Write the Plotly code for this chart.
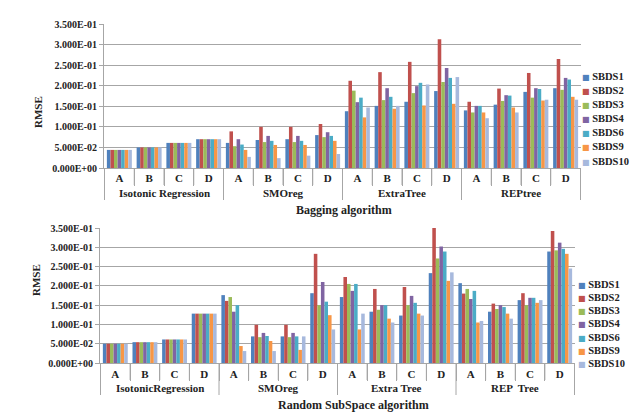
import plotly.graph_objects as go

series_names = ["SBDS1", "SBDS2", "SBDS3", "SBDS4", "SBDS6", "SBDS9", "SBDS10"]
series_colors = ["#4F81BD", "#C0504D", "#9BBB59", "#8064A2", "#4BACC6", "#F79646", "#A7B9DD"]
sub_labels = ["A", "B", "C", "D"]
bag_groups = ["Isotonic Regression", "SMOreg", "ExtraTree", "REPtree"]
rs_groups = ["IsotonicRegression", "SMOreg", "Extra Tree", "REP  Tree"]
ytick_vals = [0.0, 0.05, 0.10, 0.15, 0.20, 0.25, 0.30, 0.35]
ytick_text = ["0.000E+00", "5.000E-02", "1.000E-01", "1.500E-01",
              "2.000E-01", "2.500E-01", "3.000E-01", "3.500E-01"]

# Bagging algorithm (order: Iso A-D, SMOreg A-D, ExtraTree A-D, REPtree A-D)
bag_sbds1 = [0.044, 0.050, 0.061, 0.070, 0.061, 0.068, 0.070, 0.080, 0.138, 0.151, 0.161, 0.187, 0.140, 0.154, 0.185, 0.194]
bag_sbds2 = [0.044, 0.050, 0.061, 0.070, 0.089, 0.100, 0.100, 0.107, 0.212, 0.233, 0.258, 0.313, 0.161, 0.193, 0.231, 0.265]
bag_sbds3 = [0.044, 0.050, 0.061, 0.070, 0.053, 0.063, 0.063, 0.075, 0.188, 0.165, 0.182, 0.209, 0.135, 0.163, 0.171, 0.190]
bag_sbds4 = [0.044, 0.050, 0.061, 0.070, 0.070, 0.078, 0.078, 0.087, 0.160, 0.194, 0.199, 0.243, 0.151, 0.177, 0.194, 0.219]
bag_sbds6 = [0.044, 0.050, 0.061, 0.070, 0.057, 0.066, 0.066, 0.078, 0.171, 0.173, 0.207, 0.219, 0.151, 0.176, 0.192, 0.215]
bag_sbds9 = [0.044, 0.050, 0.061, 0.070, 0.044, 0.056, 0.056, 0.066, 0.123, 0.144, 0.152, 0.156, 0.135, 0.147, 0.164, 0.173]
bag_sbds10 = [0.044, 0.050, 0.061, 0.070, 0.027, 0.024, 0.030, 0.034, 0.147, 0.151, 0.203, 0.221, 0.121, 0.135, 0.166, 0.166]

# Random SubSpace algorithm
rs_sbds1 = [0.050, 0.054, 0.061, 0.128, 0.176, 0.069, 0.069, 0.181, 0.171, 0.133, 0.123, 0.233, 0.207, 0.133, 0.163, 0.289]
rs_sbds2 = [0.050, 0.054, 0.061, 0.128, 0.161, 0.099, 0.099, 0.283, 0.223, 0.192, 0.197, 0.352, 0.180, 0.154, 0.181, 0.342]
rs_sbds3 = [0.050, 0.054, 0.061, 0.128, 0.171, 0.067, 0.067, 0.150, 0.205, 0.138, 0.150, 0.271, 0.192, 0.140, 0.150, 0.292]
rs_sbds4 = [0.050, 0.054, 0.061, 0.128, 0.133, 0.078, 0.078, 0.210, 0.187, 0.150, 0.174, 0.302, 0.166, 0.150, 0.169, 0.312]
rs_sbds6 = [0.050, 0.054, 0.061, 0.128, 0.150, 0.070, 0.069, 0.159, 0.205, 0.150, 0.156, 0.289, 0.187, 0.145, 0.169, 0.296]
rs_sbds9 = [0.050, 0.054, 0.061, 0.128, 0.044, 0.057, 0.034, 0.124, 0.087, 0.115, 0.128, 0.213, 0.105, 0.128, 0.156, 0.283]
rs_sbds10 = [0.050, 0.054, 0.061, 0.128, 0.031, 0.031, 0.069, 0.087, 0.128, 0.105, 0.123, 0.235, 0.109, 0.115, 0.163, 0.245]

bag_values = [bag_sbds1, bag_sbds2, bag_sbds3, bag_sbds4, bag_sbds6, bag_sbds9, bag_sbds10]
rs_values = [rs_sbds1, rs_sbds2, rs_sbds3, rs_sbds4, rs_sbds6, rs_sbds9, rs_sbds10]

FONT = "Liberation Serif"
GRID = "#A6A6A6"
TXT = "#222222"
W, H = 643, 412


def cats(groups):
    return [g + "|" + s for g in groups for s in sub_labels]


x_bag = cats(bag_groups)
x_rs = cats(rs_groups)
tick_letters = [s for _ in range(4) for s in sub_labels]

fig = go.Figure()
for name, color, vb, vr in zip(series_names, series_colors, bag_values, rs_values):
    fig.add_trace(go.Bar(x=x_bag, y=vb, name=name, marker=dict(color=color, line=dict(width=0)),
                         xaxis="x", yaxis="y", showlegend=False))
    fig.add_trace(go.Bar(x=x_rs, y=vr, name=name, marker=dict(color=color, line=dict(width=0)),
                         xaxis="x2", yaxis="y2", showlegend=False))


def xaxis_cfg(domain, anchor, catlist, ticklen, standoff):
    return dict(domain=domain, anchor=anchor, type="category",
                categoryorder="array", categoryarray=catlist,
                tickvals=catlist, ticktext=tick_letters,
                showline=True, linecolor=GRID, linewidth=1,
                ticks="outside", tickson="boundaries", ticklen=ticklen, tickcolor=GRID,
                tickfont=dict(family=FONT, size=11, color=TXT, weight="bold"),
                ticklabelstandoff=standoff, automargin=False, showgrid=False,
                fixedrange=True)


ycommon = dict(range=[0, 0.35], tickvals=ytick_vals, ticktext=ytick_text,
               showline=True, linecolor=GRID, linewidth=1, showgrid=True,
               gridcolor=GRID, gridwidth=1, ticks="outside", ticklen=4, tickcolor=GRID,
               tickfont=dict(family=FONT, size=10, color=TXT, weight="bold"),
               zeroline=False, automargin=False, fixedrange=True)

top_axis_px, top_tick_px, top_div_px, top_grp_px = 160, 177, 192, 185
bot_axis_px, bot_tick_px, bot_div_px, bot_grp_px = 355, 372, 387, 380

fig.update_layout(
    width=W, height=H, autosize=False,
    margin=dict(l=0, r=0, t=0, b=0),
    paper_bgcolor="white", plot_bgcolor="white",
    barmode="group", bargap=0.16, bargroupgap=0.0,
    xaxis=xaxis_cfg([96 / W, 573 / W], "y", x_bag, 17, 0),
    yaxis=dict(domain=[1 - top_axis_px / H, 1 - 16 / H], anchor="x", **ycommon),
    xaxis2=xaxis_cfg([92 / W, 567 / W], "y2", x_rs, 17, 1),
    yaxis2=dict(domain=[1 - bot_axis_px / H, 1 - 220 / H], anchor="x2", **ycommon),
)

shapes = []
ann = []
for xref, groups, axis_px, tick_px, div_px, grp_px in [
        ("x", bag_groups, top_axis_px, top_tick_px, top_div_px, top_grp_px),
        ("x2", rs_groups, bot_axis_px, bot_tick_px, bot_div_px, bot_grp_px)]:
    for b in range(17):
        end_px = div_px if b % 4 == 0 else tick_px
        shapes.append(dict(type="line", xref=xref, yref="paper", x0=b - 0.5, x1=b - 0.5,
                           y0=1 - axis_px / H, y1=1 - end_px / H,
                           line=dict(color=GRID, width=1)))
    for k, g in enumerate(groups):
        ann.append(dict(text="<b>%s</b>" % g, x=4 * k + 1.5, y=1 - grp_px / H, xref=xref, yref="paper",
                        yanchor="middle", showarrow=False, font=dict(family=FONT, size=11, color=TXT)))

ann.append(dict(text="<b>RMSE</b>", x=22 / W, y=1 - 86 / H, xref="paper", yref="paper",
                textangle=-90, showarrow=False, font=dict(family=FONT, size=11, color=TXT)))
ann.append(dict(text="<b>RMSE</b>", x=20 / W, y=1 - 290 / H, xref="paper", yref="paper",
                textangle=-90, showarrow=False, font=dict(family=FONT, size=11, color=TXT)))
ann.append(dict(text="<b>Bagging algorithm</b>", x=336 / W, y=1 - 202 / H, xref="paper", yref="paper",
                showarrow=False, font=dict(family=FONT, size=12, color=TXT)))
ann.append(dict(text="<b>Random SubSpace algorithm</b>", x=345 / W, y=1 - 406 / H, xref="paper",
                yref="paper", showarrow=False, font=dict(family=FONT, size=12, color=TXT)))

# legends
for top, step, xm in [(68, 14.2, 572), (276, 13.3, 568)]:
    for i, (name, color) in enumerate(zip(series_names, series_colors)):
        yy = top + i * step
        ann.append(dict(text="<span style='font-family:DejaVu Sans;font-size:8px;color:%s'>■</span> <b>%s</b>" % (color, name),
                        x=xm / W, y=1 - yy / H, xref="paper", yref="paper", xanchor="left",
                        yanchor="middle", showarrow=False,
                        font=dict(family=FONT, size=10.5, color=TXT)))

fig.update_layout(annotations=ann, shapes=shapes)
fig.write_html("out.html")
